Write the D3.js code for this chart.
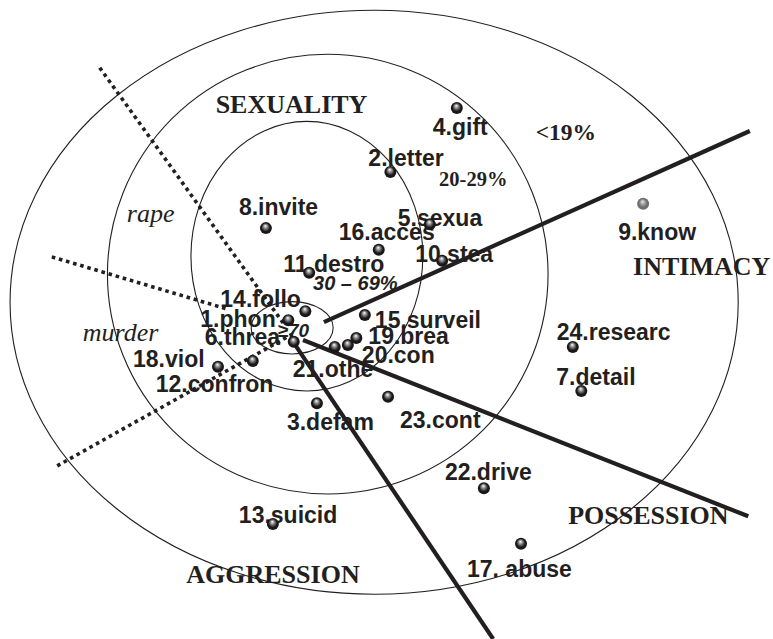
<!DOCTYPE html>
<html>
<head>
<meta charset="utf-8">
<script src="https://cdn.jsdelivr.net/npm/d3@7"></script>
<style>
    body { margin: 0; background: #fff; }
    svg { display: block; }
</style>
</head>
<body>
<div id="chart"></div>
<script>
// items of the smallest space plot, coordinates in plot units (0-100, y up)
const pointLabels = [`1.phon`, `2.letter`, `3.defam`, `4.gift`, `5.sexua`, `6.threa`, `7.detail`, `8.invite`,
    `9.know`, `10.stea`, `11.destro`, `12.confron`, `13.suicid`, `14.follo`, `15.surveil`, `16.acces`,
    `17. abuse`, `18.viol`, `19.brea`, `20.con`, `21.othe`, `22.drive`, `23.cont`, `24.researc`]
const pointX = [37.3, 50.5, 41.0, 59.1, 55.6, 38.0, 75.2, 34.4, 83.2, 57.2, 40.0, 32.7,
    35.3, 39.5, 47.2, 49.0, 67.4, 28.2, 46.1, 45.0, 43.3, 62.6, 50.2, 74.1]
const pointY = [49.9, 73.1, 36.9, 83.1, 64.9, 46.5, 38.8, 64.3, 68.1, 59.2, 57.3, 43.5,
    18.0, 51.3, 50.7, 60.9, 14.9, 42.6, 47.1, 46.0, 45.7, 23.6, 37.9, 45.7]
// 9.know is the only item drawn in grey
const pointGrey = [9]

// frequency bands (ellipses), from the core outwards
const bandLabels = [`≥70`, `30 – 69%`, `20-29%`, `<19%`]
const bandCx = [37.8, 39.7, 42.4, 48.4]
const bandCy = [48.7, 59.9, 57.1, 52.7]
const bandRx = [5.3, 15.0, 28.5, 47.1]
const bandRy = [4.1, 21.1, 34.4, 45.7]

// facet names and the partition lines between them
const facetNames = [`SEXUALITY`, `INTIMACY`, `POSSESSION`, `AGGRESSION`]
const subFacetNames = [`rape`, `murder`]
const solidLines = [
    [[41.9, 49.6], [97.0, 79.5]],
    [[39.2, 46.8], [96.8, 19.2]],
    [[38.2, 46.0], [63.8, 0.0]]
]
const dottedLines = [
    [[12.9, 89.4], [36.9, 49.0]],
    [[6.7, 59.8], [29.5, 51.6]],
    [[7.4, 27.1], [37.8, 47.7]]
]

// layout only: label anchors (plot units) and pixel offsets of item labels
const facetPos = [[27.9, 82.3], [81.9, 57.0], [73.5, 18.0], [24.1, 8.8]]
const subFacetPos = [[16.4, 65.3], [10.7, 46.6]]
const bandLabelPos = [[35.9, 47.3], [40.5, 54.6], [56.8, 70.9], [69.3, 78.1]]
const labelOffsets = [[-88, 7], [-22, -6], [-30, 27], [-24, 27], [-32, 2], [-89, 3], [-25, -6], [-27, -13],
    [-25, 36], [-27, 1], [-26, -1], [-97, 31], [-34, -1], [-85, -4], [10, 13], [-40, -10],
    [-54, 33], [-85, 0], [12, 6], [14, 18], [-42, 30], [-39, -8], [12, 31], [-16, -7]]

const width = 773,
    height = 639,
    ink = `#231f20`

const x = d3.scaleLinear().domain([0, 100]).range([0, width])
const y = d3.scaleLinear().domain([0, 100]).range([height, 0])

const svg = d3.select(`#chart`).append(`svg`).attr(`width`, width).attr(`height`, height)

const defs = svg.append(`defs`)
const makeBall = (id, light, dark) => {
    const g = defs.append(`radialGradient`).attr(`id`, id).attr(`cx`, `50%`).attr(`cy`, `50%`).attr(`r`, `55%`).attr(`fx`, `45%`).attr(`fy`, `30%`)
    g.append(`stop`).attr(`offset`, `0%`).attr(`stop-color`, light)
    g.append(`stop`).attr(`offset`, `30%`).attr(`stop-color`, d3.interpolateRgb(light, dark)(0.5))
    g.append(`stop`).attr(`offset`, `65%`).attr(`stop-color`, dark)
    g.append(`stop`).attr(`offset`, `100%`).attr(`stop-color`, dark)
}
makeBall(`ball`, `#ffffff`, `#1a1718`)
makeBall(`ballGrey`, `#e8e8e8`, `#6d6d6d`)

// ellipses
svg.append(`g`).selectAll(`ellipse`).data(bandCx).join(`ellipse`)
    .attr(`cx`, d => x(d))
    .attr(`cy`, (d, i) => y(bandCy[i]))
    .attr(`rx`, (d, i) => x(bandRx[i]) - x(0))
    .attr(`ry`, (d, i) => y(0) - y(bandRy[i]))
    .attr(`fill`, `none`).attr(`stroke`, ink).attr(`stroke-width`, 1.1)

// facet titles
svg.append(`g`).selectAll(`text`).data(facetNames).join(`text`)
    .attr(`x`, (d, i) => x(facetPos[i][0]))
    .attr(`y`, (d, i) => y(facetPos[i][1]))
    .attr(`font-family`, `"Liberation Serif", "Times New Roman", serif`).attr(`font-weight`, `bold`).attr(`font-size`, 26)
    .attr(`fill`, ink).text(d => d)

svg.append(`g`).selectAll(`text`).data(subFacetNames).join(`text`)
    .attr(`x`, (d, i) => x(subFacetPos[i][0]))
    .attr(`y`, (d, i) => y(subFacetPos[i][1]))
    .attr(`font-family`, `"Liberation Serif", "Times New Roman", serif`).attr(`font-style`, `italic`).attr(`font-size`, 26)
    .attr(`fill`, ink).text(d => d)

// band labels: inner two are sans italic, outer two serif bold
svg.append(`g`).selectAll(`text`).data(bandLabels).join(`text`)
    .attr(`x`, (d, i) => x(bandLabelPos[i][0]))
    .attr(`y`, (d, i) => y(bandLabelPos[i][1]))
    .attr(`font-family`, (d, i) => i < 2 ? `"Liberation Sans", Arial, sans-serif` : `"Liberation Serif", "Times New Roman", serif`)
    .attr(`font-style`, (d, i) => i < 2 ? `italic` : `normal`)
    .attr(`font-weight`, `bold`)
    .attr(`font-size`, (d, i) => [19, 20, 20.5, 23.5][i])
    .attr(`fill`, ink).text(d => d)

// item labels
svg.append(`g`).selectAll(`text`).data(pointLabels).join(`text`)
    .attr(`x`, (d, i) => x(pointX[i]) + labelOffsets[i][0])
    .attr(`y`, (d, i) => y(pointY[i]) + labelOffsets[i][1])
    .attr(`font-family`, `"Liberation Sans", Arial, sans-serif`).attr(`font-weight`, `bold`).attr(`font-size`, 23)
    .attr(`fill`, ink).text(d => d)

// partition lines
const line = d3.line().x(d => x(d[0])).y(d => y(d[1]))

svg.append(`g`).selectAll(`path`).data(solidLines).join(`path`)
    .attr(`d`, line).attr(`fill`, `none`).attr(`stroke`, ink).attr(`stroke-width`, 4.2)

svg.append(`g`).selectAll(`path`).data(dottedLines).join(`path`)
    .attr(`d`, line).attr(`fill`, `none`).attr(`stroke`, ink).attr(`stroke-width`, 3.6).attr(`stroke-dasharray`, `3.6,3.8`)

// items
svg.append(`g`).selectAll(`circle`).data(pointX).join(`circle`)
    .attr(`cx`, d => x(d))
    .attr(`cy`, (d, i) => y(pointY[i]))
    .attr(`r`, 6)
    .attr(`fill`, (d, i) => pointGrey.includes(i + 1) ? `url(#ballGrey)` : `url(#ball)`)
</script>
</body>
</html>
